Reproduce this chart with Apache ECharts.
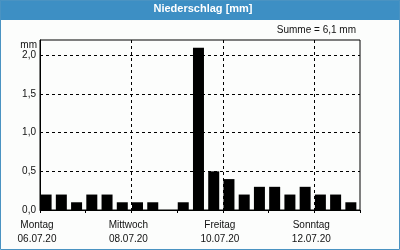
<!DOCTYPE html>
<html>
<head>
<meta charset="utf-8">
<style>
  html, body { margin: 0; padding: 0; background: #fcfdfc; }
  #chart { width: 400px; height: 250px; }
</style>
<script src="https://cdn.jsdelivr.net/npm/echarts@6/dist/echarts.min.js"></script>
</head>
<body>
<div id="chart"></div>
<script>
// Niederschlag in 8-Stunden-Intervallen, 06.07.20 – 12.07.20
const dayLabels = ['Montag\n06.07.20', 'Mittwoch\n08.07.20', 'Freitag\n10.07.20', 'Sonntag\n12.07.20'];
const rain = [0.2, 0.2, 0.1, 0.2, 0.2, 0.1, 0.1, 0.1, 0.0, 0.1, 2.1,
              0.5, 0.4, 0.2, 0.3, 0.3, 0.2, 0.3, 0.2, 0.2, 0.1];
const yTicks = [0, 0.5, 1.0, 1.5, 2.0];

const slotsPerDay = 3;
const total = rain.reduce((a, b) => a + b, 0);
const fmt = v => v.toFixed(1).replace('.', ',');
const font = '"Liberation Sans"';

const chart = echarts.init(document.getElementById('chart'));
chart.setOption({
  animation: false,
  backgroundColor: '#fcfdfc',
  textStyle: { fontFamily: font },
  grid: { left: 40, right: 40, top: 40, bottom: 40, show: true,
          borderColor: '#000', borderWidth: 1, backgroundColor: 'transparent' },
  graphic: [
    { type: 'rect', shape: { x: 0, y: 0, width: 400, height: 20 },
      style: { fill: '#3d8fc4' }, silent: true },
    { type: 'text', x: 203, y: 9,
      style: { text: 'Niederschlag [mm]', fill: '#fff', font: 'bold 11px ' + font,
               align: 'center', verticalAlign: 'middle' } },
    { type: 'rect', shape: { x: 0.5, y: 0.5, width: 399, height: 249 },
      style: { fill: 'none', stroke: '#4a93c2', lineWidth: 1 }, silent: true },
    { type: 'text', x: 356, y: 30,
      style: { text: 'Summe = ' + fmt(total) + ' mm', fill: '#111', font: '10px ' + font,
               align: 'right', verticalAlign: 'middle' } },
    { type: 'text', x: 37, y: 45,
      style: { text: 'mm', fill: '#111', font: '10px ' + font,
               align: 'right', verticalAlign: 'middle' } }
  ],
  xAxis: [
    { type: 'value', min: 0, max: rain.length, interval: slotsPerDay,
      axisLine: { show: true, onZero: false, lineStyle: { color: '#000' } },
      axisTick: { show: true, length: 3, lineStyle: { color: '#000' } },
      axisLabel: { show: false }, splitLine: { show: false } },
    { type: 'value', min: 0, max: rain.length, interval: slotsPerDay * 2, position: 'bottom',
      axisLine: { show: false }, axisTick: { show: false },
      axisLabel: { show: true, margin: 8, color: '#111', fontSize: 10, lineHeight: 14,
                   fontFamily: font, padding: [0, 6, 0, 0],
                   formatter: v => (v % (slotsPerDay * 2) === 0 && v < rain.length) ? dayLabels[v / (slotsPerDay * 2)] : '' },
      splitLine: { show: true, showMinLine: false, showMaxLine: false,
                   lineStyle: { color: '#000', type: [3, 3], width: 1 } } }
  ],
  yAxis: {
    type: 'value', min: 0, max: 2.2, interval: 0.5,
    axisLine: { show: true, lineStyle: { color: '#000' } },
    axisTick: { show: false },
    axisLabel: { color: '#111', fontSize: 10, margin: 4, fontFamily: font,
                 formatter: v => yTicks.includes(v) ? fmt(v) : '' },
    splitLine: { show: true, showMinLine: false, showMaxLine: false,
                 lineStyle: { color: '#000', type: [3, 3], width: 1 } }
  },
  series: [{
    type: 'bar',
    xAxisIndex: 0,
    barWidth: 11,
    itemStyle: { color: '#000' },
    data: rain.map((v, i) => [i + 0.4, v])
  }]
});
</script>
</body>
</html>
